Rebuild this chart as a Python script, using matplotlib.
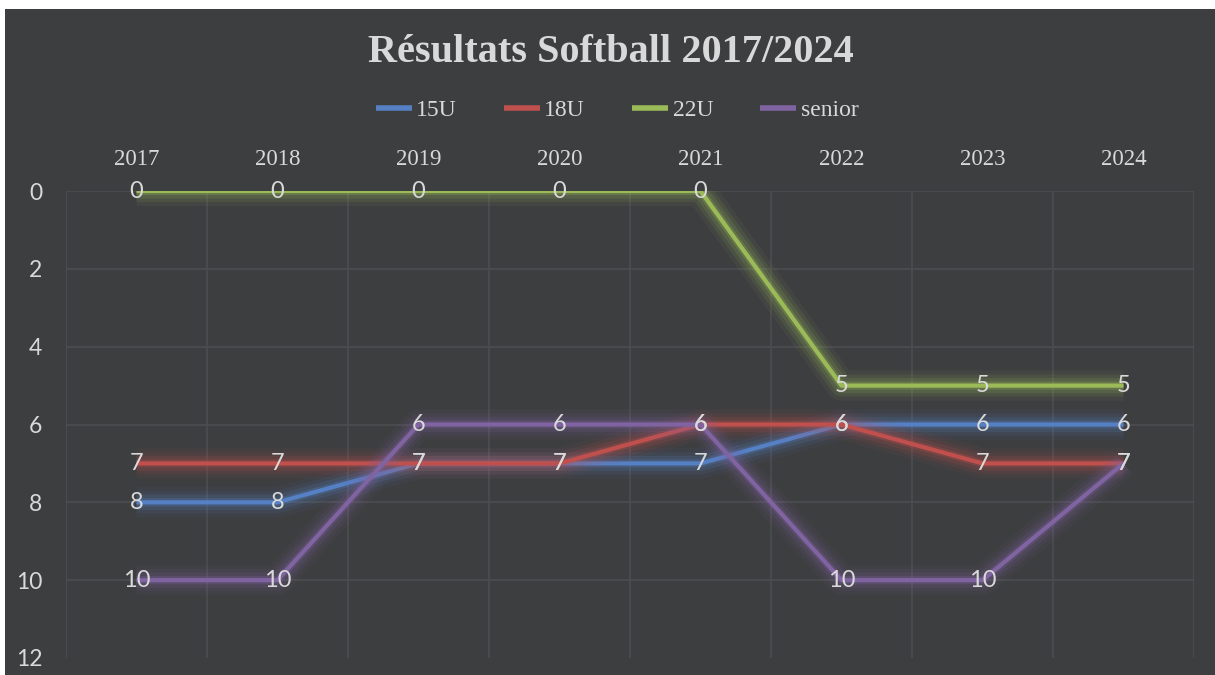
import numpy as np
import matplotlib
matplotlib.use("Agg")
import matplotlib.pyplot as plt
import matplotlib.patheffects as pe
from matplotlib.patches import Rectangle

# ================================
# DATA
# ================================
years = ["2017", "2018", "2019", "2020", "2021", "2022", "2023", "2024"]
u15 = [8, 8, 7, 7, 7, 6, 6, 6]
u18 = [7, 7, 7, 7, 6, 6, 7, 7]
u22 = [0, 0, 0, 0, 0, 5, 5, 5]
senior = [10, 10, 6, 6, 6, 10, 10, 7]

series = [("15U", u15, "#5580c4"),
          ("18U", u18, "#c0504d"),
          ("22U", u22, "#9bbb59"),
          ("senior", senior, "#8064a2")]

bg = "#3d3e40"
txt = "#d9d9d9"
grid_c = "#4c4d50"

# ================================
# FIGURE
# ================================
fig = plt.figure(figsize=(12.15, 6.75), dpi=100)
fig.patch.set_facecolor("white")
fig.add_artist(Rectangle((5 / 1215, 0), 1, 1 - 9 / 675, transform=fig.transFigure,
                         facecolor=bg, edgecolor="none", zorder=0))

ax = fig.add_axes([66 / 1215, 1 - 658 / 675, (1194 - 66) / 1215, (658 - 191) / 675])
ax.set_facecolor(bg)

x = np.arange(len(years))
for name, vals, col in series:
    glow = [pe.Stroke(linewidth=22, foreground=col, alpha=0.06),
            pe.Stroke(linewidth=16, foreground=col, alpha=0.10),
            pe.Stroke(linewidth=11, foreground=col, alpha=0.15),
            pe.Stroke(linewidth=6, foreground=col, alpha=0.25),
            pe.Normal()]
    ax.plot(x, vals, color=col, lw=3.0, label=name, path_effects=glow,
            solid_capstyle="butt", zorder=3)
    for xi, v in zip(x, vals):
        ax.text(xi, v, str(v), ha="center", va="center", color=txt,
                fontsize=17, family="Lato", zorder=5)

ax.set_xlim(-0.5, len(years) - 0.5)
ax.set_ylim(12, 0)
ax.set_yticks(range(0, 13, 2))
ax.set_xticks(x)
ax.set_xticklabels(years, family="Liberation Serif", fontsize=16.5, color=txt)
ax.set_xticks(np.arange(-0.5, len(years), 1), minor=True)
ax.xaxis.tick_top()
ax.tick_params(axis="x", which="both", length=0, pad=15)
ax.tick_params(axis="y", length=0, pad=17, labelsize=16.5, labelcolor=txt)
for lab in ax.get_yticklabels():
    lab.set_family("Lato")

ax.grid(axis="y", which="major", color=grid_c, lw=1.2)
ax.grid(axis="x", which="minor", color=grid_c, lw=1.2)
ax.grid(axis="x", which="major", visible=False)
ax.get_ygridlines()[-1].set_visible(False)
for s in ax.spines.values():
    s.set_visible(False)
ax.set_axisbelow(True)

# title + legend
fig.text(0.503, 1 - 52 / 675, "Résultats Softball 2017/2024", ha="center", va="center",
         family="Liberation Serif", fontweight="bold", fontsize=29, color=txt)
leg = fig.legend(loc="center", bbox_to_anchor=(0.508, 1 - 110 / 675), ncol=4,
                 frameon=False, prop={"family": "Liberation Serif", "size": 17},
                 handlelength=1.5, handletextpad=0.2, columnspacing=2.0)
for t in leg.get_texts():
    t.set_color(txt)
for h in leg.legend_handles:
    h.set_path_effects([])
    h.set_linewidth(4)

fig.savefig("out.png", dpi=100, facecolor=fig.get_facecolor())
